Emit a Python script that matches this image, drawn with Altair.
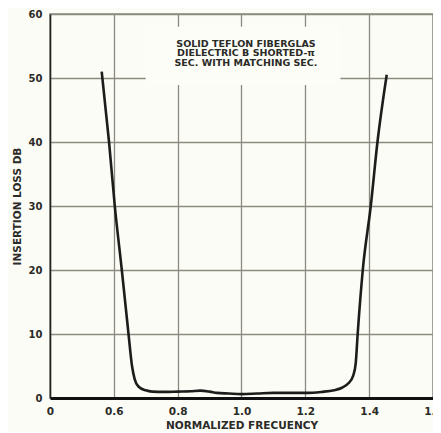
import altair as alt
import pandas as pd

# curve readings
freq = [0.562, 0.585, 0.603, 0.625, 0.646, 0.657, 0.665, 0.677, 0.70, 0.72, 0.76, 0.80, 0.84, 0.871, 0.90, 0.923, 0.96,
        1.0, 1.05, 1.10, 1.15, 1.2, 1.25, 1.29, 1.315, 1.335, 1.35, 1.358, 1.364, 1.38, 1.405, 1.426, 1.455]
loss = [51.0, 40.0, 30.0, 20.0, 10.0, 5.0, 3.0, 1.8, 1.2, 1.0, 0.95, 1.0, 1.05, 1.15, 1.0, 0.8, 0.7,
        0.6, 0.7, 0.8, 0.8, 0.8, 0.95, 1.2, 1.6, 2.3, 3.5, 5.5, 10.0, 20.0, 30.0, 40.0, 50.5]

x_ticks = [0.4, 0.6, 0.8, 1.0, 1.2, 1.4, 1.6]
y_ticks = [0, 10, 20, 30, 40, 50, 60]

note_lines = ["SOLID TEFLON FIBERGLAS", "DIELECTRIC B SHORTED-\u03c0", "SEC. WITH MATCHING SEC."]
note_y = [55.35, 53.83, 52.3]
note_x = [1.014, 1.014, 1.014]

box = pd.DataFrame({"x": [0.70], "x2": [1.31], "y": [48.9], "y2": [58.0]})
curve = pd.DataFrame({"f": freq, "l": loss})
notes = pd.DataFrame({"x": note_x, "y": note_y, "t": note_lines})

FONT = "DejaVu Sans"
INK = "#2b2b28"

xs = alt.Scale(domain=[0.4, 1.6], nice=False, zero=False)
ys = alt.Scale(domain=[0, 60], nice=False)

xaxis = alt.Axis(values=x_ticks, labelExpr="datum.value == 0.4 ? '0' : format(datum.value, '.1f')",
                 title="NORMALIZED FRECUENCY", grid=True, ticks=False, domainWidth=3, domainColor="#111",
                 labelFont=FONT, labelFontWeight="bold", labelFontSize=10.5, labelColor=INK, labelPadding=8,
                 titleFont=FONT, titleFontWeight="bold", titleFontSize=10.5, titleColor=INK, titlePadding=4,
                 labelFlush=False, labelOverlap=False)
yaxis = alt.Axis(values=y_ticks, title="INSERTION LOSS DB", grid=True, ticks=False, domainWidth=1.5,
                 domainColor="#222", labelFont=FONT, labelFontWeight="bold", labelFontSize=10, labelColor=INK,
                 labelPadding=8, titleFont=FONT, titleFontWeight="bold", titleFontSize=10.5, titleColor=INK,
                 titlePadding=6, labelFlush=False, labelOverlap=False)

rect = alt.Chart(box).mark_rect(color="#fdfdf7").encode(
    x=alt.X("x:Q", scale=xs, axis=xaxis), x2="x2:Q",
    y=alt.Y("y:Q", scale=ys, axis=yaxis), y2="y2:Q")

line = alt.Chart(curve).mark_line(color="#1c1c1a", strokeWidth=2.6, interpolate="monotone").encode(
    x=alt.X("f:Q", scale=xs), y=alt.Y("l:Q", scale=ys))

text = alt.Chart(notes).mark_text(font=FONT, fontWeight="bold", fontSize=9.5, color=INK).encode(
    x=alt.X("x:Q", scale=xs), y=alt.Y("y:Q", scale=ys), text="t:N")

chart = alt.layer(rect, line, text).properties(
    width=383, height=384,
    autosize=alt.AutoSizeParams(type="none"),
    padding={"left": 42, "top": 6, "right": 0, "bottom": 34},
    background="#fcfcf6",
).configure_view(stroke="#8a8a82", strokeWidth=1.5).configure_axis(
    gridColor="#8a8a80", gridWidth=1.3, gridOpacity=1)

chart.save("out.html", embed_options={"renderer": "svg", "actions": False})
